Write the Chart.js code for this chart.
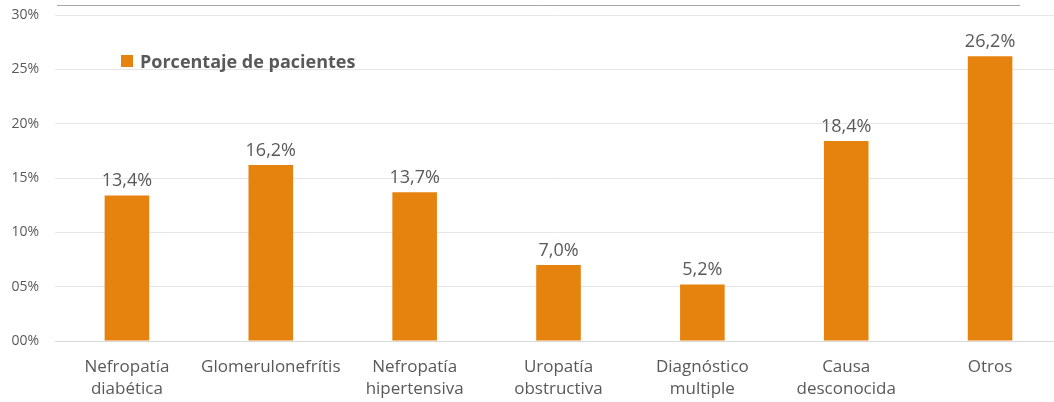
<!DOCTYPE html>
<html>
<head>
<meta charset="utf-8">
<script src="https://cdn.jsdelivr.net/npm/chart.js@4"></script>
<style>
  body { margin: 0; background: #fff; overflow: hidden; }
  #wrap { position: relative; width: 1070px; height: 402px; }
  #legend {
    position: absolute; left: 121px; top: 49px;
    font: bold 18px "Open Sans", sans-serif; color: #595959;
    display: flex; align-items: center;
  }
  #legend span.box { width: 12px; height: 12px; background: #E6820E; margin-right: 7px; display: inline-block; }
</style>
</head>
<body>
<div id="wrap">
  <canvas id="chart"></canvas>
  <div id="legend"><span class="box"></span><span>Porcentaje de pacientes</span></div>
</div>
<script>
const categories = [
    ["Nefropatía", "diabética"],
    "Glomerulonefrítis",
    ["Nefropatía", "hipertensiva"],
    ["Uropatía", "obstructiva"],
    ["Diagnóstico", "multiple"],
    ["Causa", "desconocida"],
    "Otros"
];
const values = [13.4, 16.2, 13.7, 7.0, 5.2, 18.4, 26.2];
const seriesName = 'Porcentaje de pacientes';
const barColor = '#E6820E';
const textColor = '#595959';

// labels above the bars
const valueLabels = {
    id: 'valueLabels',
    afterDatasetsDraw(chart) {
        const ctx = chart.ctx;
        ctx.save();
        ctx.font = '18px "Open Sans", sans-serif';
        ctx.fillStyle = textColor;
        ctx.textAlign = 'center';
        ctx.textBaseline = 'alphabetic';
        chart.getDatasetMeta(0).data.forEach((bar, i) => {
            ctx.fillText(values[i].toFixed(1).replace('.', ',') + '%', bar.x, bar.y - 9);
        });
        ctx.restore();
    }
};

// darker line above the plot
const topLine = {
    id: 'topLine',
    beforeDraw(chart) {
        const ctx = chart.ctx;
        ctx.save();
        ctx.strokeStyle = '#a6a6a6';
        ctx.lineWidth = 1;
        ctx.beginPath();
        ctx.moveTo(57, 5.5);
        ctx.lineTo(1020, 5.5);
        ctx.stroke();
        ctx.restore();
    }
};

const canvas = document.getElementById('chart');
canvas.width = 1070;
canvas.height = 402;

new Chart(canvas, {
    type: 'bar',
    data: {
        labels: categories,
        datasets: [{
            label: seriesName,
            data: values,
            backgroundColor: barColor,
            barPercentage: 0.31,
            categoryPercentage: 1
        }]
    },
    options: {
        responsive: false,
        animation: false,
        layout: { padding: { top: 15, right: 8, left: 0, bottom: 0 } },
        plugins: {
            legend: { display: false },
            tooltip: { enabled: false }
        },
        scales: {
            x: {
                grid: { display: false },
                border: { color: '#d9d9d9' },
                afterFit(scale) { scale.height = 61; scale.paddingLeft = 0; scale.paddingRight = 0; },
                ticks: {
                    color: textColor,
                    font: { family: '"Open Sans", sans-serif', size: 17, lineHeight: 1.3 },
                    maxRotation: 0,
                    autoSkip: false,
                    padding: 7
                }
            },
            y: {
                min: 0,
                max: 30,
                grid: { color: '#e6e6e6', drawTicks: false },
                border: { display: false },
                afterFit(scale) { scale.width = 55; scale.paddingTop = 0; scale.paddingBottom = 0; },
                ticks: {
                    stepSize: 5,
                    padding: 16,
                    color: textColor,
                    font: { family: '"Open Sans", sans-serif', size: 14 },
                    callback: v => String(v).padStart(2, '0') + '%'
                }
            }
        }
    },
    plugins: [valueLabels, topLine]
});
</script>
</body>
</html>
